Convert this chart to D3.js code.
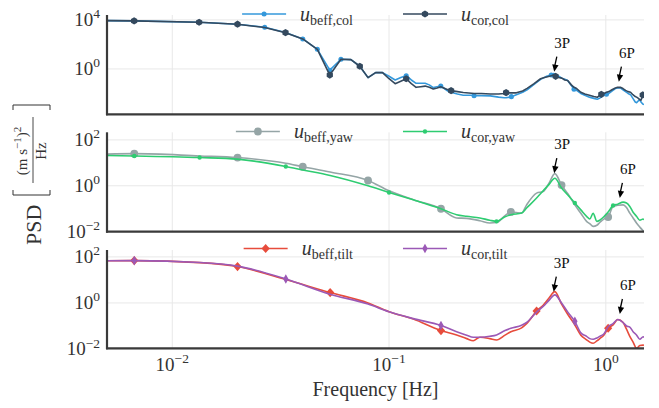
<!DOCTYPE html>
<html><head><meta charset="utf-8">
<script src="https://cdn.jsdelivr.net/npm/d3@7"></script>
<style>body{margin:0;background:#fff}svg{display:block}</style>
</head><body>
<svg id="c" width="659" height="408"></svg>
<script>
// ---------- DATA (PSD values, stored as log10 of PSD) ----------
const freqCol = [0.005,0.00667,0.0133,0.02,0.0267,0.0333,0.04,0.0467,0.0533,0.06,0.0667,0.0733,0.08,0.0867,0.0933,0.1,0.1067,0.1133,0.12,0.1267,0.1333,0.14,0.1467,0.1533,0.16,0.1667,0.1733,0.1867,0.1933,0.2067,0.22,0.24,0.2467,0.2667,0.2933,0.32,0.34,0.3467,0.36,0.3667,0.3867,0.4133,0.4333,0.4667,0.5,0.52,0.5333,0.56,0.5733,0.5867,0.6067,0.6267,0.6467,0.6667,0.6933,0.7133,0.7333,0.7667,0.8,0.84,0.88,0.9133,0.9333,0.9533,0.9733,1.0067,1.0333,1.0667,1.1067,1.1333,1.1667,1.2,1.2333,1.2667,1.3,1.3333,1.3667,1.3867,1.4133,1.4333,1.4533,1.48,1.5];
const colBeffLog = [3.94,3.92,3.81,3.65,3.4,2.98,2.45,1.6,-0.1,0.79,0.76,0.22,-0.71,-0.3,-0.3,-0.6,-0.9,-0.7,-0.55,-0.9,-1.17,-1.17,-1.17,-1.3,-1.52,-1.45,-1.39,-1.8,-1.9,-2.05,-2.15,-2.15,-2.18,-2.18,-2.2,-2.3,-2.35,-2.35,-2.3,-2.26,-2.1,-1.9,-1.71,-1.25,-0.85,-0.71,-0.6,-0.49,-0.38,-0.45,-0.6,-0.75,-0.85,-0.95,-1.35,-1.65,-1.75,-2.0,-2.15,-2.3,-2.4,-2.47,-2.4,-2.3,-2.15,-2.07,-2.0,-1.8,-1.6,-1.55,-1.55,-1.7,-1.85,-2.0,-2.1,-2.4,-2.7,-2.75,-2.6,-2.5,-2.7,-2.86,-2.9];
const colCorLog  = [3.94,3.92,3.81,3.65,3.38,2.96,2.45,1.6,-0.5,0.79,0.76,0.22,-0.71,-0.3,-0.3,-0.8,-1.2,-1.0,-0.8,-1.2,-1.5,-1.45,-1.4,-1.5,-1.63,-1.55,-1.45,-1.7,-1.77,-1.85,-1.92,-1.98,-2.0,-2.0,-2.05,-2.05,-2.0,-1.93,-1.95,-1.95,-1.95,-1.8,-1.58,-1.2,-0.8,-0.7,-0.65,-0.55,-0.5,-0.6,-0.7,-0.75,-0.9,-0.95,-1.3,-1.5,-1.6,-1.9,-2.05,-2.15,-2.25,-2.31,-2.2,-2.07,-2.05,-1.9,-1.85,-1.7,-1.55,-1.5,-1.5,-1.6,-1.75,-1.85,-1.9,-2.1,-2.25,-2.3,-2.4,-2.5,-2.55,-2.12,-2.3];
const colBeffMarks = [0.0267,0.04,0.0467,0.0533,0.06,0.12,0.1733,0.2467,0.3667,0.56,0.7133,1.0067];
const colCorMarks  = [0.00667,0.0133,0.02,0.0333,0.0533,0.0733,0.12,0.1933,0.3467,0.5867,0.9533,1.48];

const freqYaw = [0.005,0.00668,0.01337,0.02,0.0334,0.04,0.0535,0.08,0.1,0.1294,0.1736,0.205,0.228,0.2624,0.2917,0.3133,0.3427,0.3648,0.4088,0.4311,0.4793,0.514,0.5458,0.582,0.6249,0.668,0.7195,0.767,0.815,0.843,0.874,0.909,0.9375,0.979,1.025,1.08,1.135,1.2014,1.2456,1.29,1.336,1.385,1.435,1.486,1.5];
const yawBeffLog = [1.38,1.40,1.30,1.23,0.98,0.83,0.60,0.23,-0.22,-0.61,-1.0,-1.4,-1.42,-1.52,-1.62,-1.6,-1.3,-1.14,-1.19,-0.83,-0.32,-0.25,0.1,0.53,0.03,-0.35,-0.83,-1.2,-1.55,-1.65,-1.77,-1.72,-1.6,-1.45,-1.36,-0.9,-0.85,-0.83,-0.95,-1.19,-1.4,-1.62,-1.8,-1.96,-2.0];
const yawCorLog  = [1.32,1.30,1.23,1.16,0.84,0.69,0.45,0.0,-0.29,-0.61,-1.0,-1.26,-1.33,-1.40,-1.50,-1.55,-1.35,-1.26,-1.19,-0.97,-0.53,-0.22,0.05,0.33,-0.1,-0.4,-0.75,-1.05,-1.33,-1.45,-1.2,-1.55,-1.5,-1.35,-1.14,-0.86,-0.8,-0.71,-0.75,-0.9,-1.15,-1.33,-1.5,-1.45,-1.48];
const yawBeffMarks = [0.00668,0.02,0.04,0.08,0.1736,0.3648,0.6249,1.025];
const yawCorMarks  = [0.00668,0.01337,0.0334,0.1,0.3133,0.7195,1.08];

const freqTilt = [0.005,0.00668,0.01337,0.02,0.0334,0.0535,0.08,0.1,0.1294,0.1736,0.205,0.228,0.2446,0.2624,0.2917,0.3133,0.3427,0.3648,0.4088,0.4311,0.4793,0.514,0.5458,0.582,0.6249,0.668,0.7195,0.767,0.815,0.843,0.874,0.909,0.9375,0.979,1.025,1.08,1.135,1.2014,1.2456,1.29,1.336,1.385,1.435,1.486,1.5];
const tiltBeffLog = [1.83,1.84,1.75,1.58,1.02,0.45,0.0,-0.38,-0.7,-1.2,-1.39,-1.55,-1.64,-1.49,-1.55,-1.61,-1.4,-1.25,-1.08,-0.9,-0.35,-0.1,0.2,0.49,-0.05,-0.5,-0.95,-1.4,-1.6,-1.7,-1.75,-1.65,-1.55,-1.4,-1.1,-0.95,-0.72,-0.85,-1.14,-1.45,-1.7,-1.97,-1.85,-1.83,-1.85];
const tiltCorLog  = [1.83,1.84,1.76,1.60,1.04,0.38,-0.05,-0.38,-0.68,-0.98,-1.25,-1.4,-1.49,-1.49,-1.45,-1.39,-1.2,-1.1,-0.97,-0.85,-0.4,-0.15,0.1,0.35,0.0,-0.4,-0.8,-1.3,-1.45,-1.55,-1.58,-1.52,-1.45,-1.35,-1.03,-0.9,-0.72,-0.85,-1.0,-1.05,-1.25,-1.39,-1.58,-1.47,-1.5];
const tiltBeffMarks = [0.00668,0.02,0.0535,0.1736,0.4793,1.025];
const tiltCorMarks  = [0.00668,0.0334,0.1736,0.7195];

const xTickValues = [0.01,0.1,1];
const yTicksCol = [1e0,1e4];
const yTicksYaw = [1e-2,1e0,1e2];
const yTicksTilt = [1e-2,1e0,1e2];
// annotation tips (frequency, log10 PSD)
const annCol  = [{label:"3P",f:0.578,L:-0.22},{label:"6P",f:1.148,L:-1.04}];
const annYaw  = [{label:"3P",f:0.578,L:0.55},{label:"6P",f:1.16,L:-0.53}];
const annTilt = [{label:"3P",f:0.575,L:0.49},{label:"6P",f:1.16,L:-0.48}];

// ---------- DRAWING ----------
const svg = d3.select("#c");
const FONT = "'Liberation Serif','DejaVu Serif',serif";
const left = 107, right = 644;
const x = d3.scaleLog().domain([0.005,1.5]).range([left,right]);

const panels = [
  {top:15, bottom:114.3, dom:[-3.7,4.4], ticks:yTicksCol, freq:freqCol, curve:d3.curveLinear, legY:14, ann:annCol,
   series:[
    {sub:"beff,col", logs:colBeffLog, marks:colBeffMarks, color:"#3498db", mk:"dot"},
    {sub:"cor,col", logs:colCorLog, marks:colCorMarks, color:"#34495e", mk:"hex"}]},
  {top:132.3, bottom:231.7, dom:[-2,2.33], ticks:yTicksYaw, freq:freqYaw, curve:d3.curveMonotoneX, legY:131.5, ann:annYaw,
   series:[
    {sub:"beff,yaw", logs:yawBeffLog, marks:yawBeffMarks, color:"#95a5a6", mk:"bigdot"},
    {sub:"cor,yaw", logs:yawCorLog, marks:yawCorMarks, color:"#2ecc71", mk:"small"}]},
  {top:250, bottom:348.3, dom:[-1.97,2.3], ticks:yTicksTilt, freq:freqTilt, curve:d3.curveMonotoneX, legY:248.5, ann:annTilt,
   series:[
    {sub:"beff,tilt", logs:tiltBeffLog, marks:tiltBeffMarks, color:"#e74c3c", mk:"diamond"},
    {sub:"cor,tilt", logs:tiltCorLog, marks:tiltCorMarks, color:"#9b59b6", mk:"thindiamond"}]}
];

function markerPath(type){
  switch(type){
    case "dot": return d3.symbol(d3.symbolCircle, 20)();
    case "small": return d3.symbol(d3.symbolCircle, 15)();
    case "bigdot": return d3.symbol(d3.symbolCircle, 48)();
    case "hex": { const r=3.6; let p=""; for(let i=0;i<6;i++){const a=Math.PI/6+i*Math.PI/3; p+=(i?"L":"M")+(r*Math.cos(a)).toFixed(2)+","+(r*Math.sin(a)).toFixed(2);} return p+"Z"; }
    case "diamond": return "M0,-4.6L4.1,0L0,4.6L-4.1,0Z";
    case "thindiamond": return "M0,-4.8L2.7,0L0,4.8L-2.7,0Z";
  }
}
function sup(textSel, base, exp, fs, es){
  textSel.append("tspan").attr("font-size",fs).text(base);
  textSel.append("tspan").attr("font-size",es).attr("dy",-fs*0.42).text(exp);
}
function expStr(v){ const e=Math.round(Math.log10(v)); return (e<0?"\u2212":"")+Math.abs(e); }

const defs = svg.append("defs");
panels.forEach((p,pi)=>{
  const y = d3.scaleLog().domain([10**p.dom[0],10**p.dom[1]]).range([p.bottom,p.top]);
  const g = svg.append("g");
  g.selectAll(".gx").data(xTickValues).enter().append("line")
    .attr("x1",d=>x(d)).attr("x2",d=>x(d)).attr("y1",p.top).attr("y2",p.bottom)
    .attr("stroke","#e8e8e8").attr("stroke-width",1);
  g.selectAll(".gy").data(p.ticks).enter().append("line")
    .attr("x1",left).attr("x2",right).attr("y1",d=>y(d)).attr("y2",d=>y(d))
    .attr("stroke","#e8e8e8").attr("stroke-width",1);
  p.ticks.forEach(t=>{
    const tx = g.append("text").attr("x",100).attr("y",y(t)+6.5).attr("text-anchor","end")
      .attr("font-family",FONT).attr("fill","#333");
    sup(tx,"10",expStr(t),19,13.5);
  });
  const cid = "clip"+pi;
  defs.append("clipPath").attr("id",cid).append("rect")
    .attr("x",left).attr("y",p.top-6).attr("width",right-left).attr("height",p.bottom-p.top+6);
  const plot = g.append("g").attr("clip-path",`url(#${cid})`);
  p.series.forEach(s=>{
    const pts = p.freq.map((f,i)=>[f,10**s.logs[i]]);
    const line = d3.line().x(d=>x(d[0])).y(d=>y(d[1])).curve(p.curve);
    plot.append("path").attr("d",line(pts)).attr("fill","none")
      .attr("stroke",s.color).attr("stroke-width",1.6).attr("stroke-linejoin","round");
    const mp = markerPath(s.mk);
    s.marks.forEach(mf=>{
      const i = p.freq.indexOf(mf);
      if(i<0) return;
      plot.append("path").attr("d",mp).attr("fill",s.color)
        .attr("transform",`translate(${x(p.freq[i])},${y(10**s.logs[i])})`);
    });
  });
  g.append("line").attr("x1",left).attr("x2",left).attr("y1",p.top).attr("y2",p.bottom+1)
    .attr("stroke","#3a3a3a").attr("stroke-width",2.2);
  g.append("line").attr("x1",left-1).attr("x2",right).attr("y1",p.bottom).attr("y2",p.bottom)
    .attr("stroke","#3a3a3a").attr("stroke-width",2.2);
  p.ann.forEach(a=>{
    const tx = x(a.f), ty = y(10**a.L);
    const sx = tx+2.6, sy = ty-15;
    g.append("line").attr("x1",sx).attr("y1",sy).attr("x2",tx+0.6).attr("y2",ty-6)
      .attr("stroke","#000").attr("stroke-width",1.3);
    const ang = Math.atan2(ty-sy, tx-sx);
    const hl=7, hw=3.2;
    const bx = tx - hl*Math.cos(ang), by = ty - hl*Math.sin(ang);
    const nx = -Math.sin(ang), ny = Math.cos(ang);
    g.append("path").attr("d",`M${tx},${ty}L${bx+nx*hw},${by+ny*hw}L${bx-nx*hw},${by-ny*hw}Z`).attr("fill","#000");
    g.append("text").attr("x",tx+8).attr("y",ty-24).attr("text-anchor","middle")
      .attr("font-family",FONT).attr("font-size",15).attr("fill","#111").text(a.label);
  });
  const leg = g.append("g");
  const items = p.series.map(s=>{
    const t = leg.append("text").attr("font-family",FONT).attr("fill","#333").attr("y",p.legY+6.5);
    t.append("tspan").attr("font-style","italic").attr("font-size",20).text("u");
    t.append("tspan").attr("font-size",14).attr("dy",4).text(s.sub);
    return {s,t,w:t.node().getComputedTextLength()};
  });
  const handle=44, pad=14, colgap=50;
  const total = items.reduce((a,it)=>a+handle+pad+it.w,0)+colgap;
  let cx = (left+right)/2 - total/2;
  items.forEach(it=>{
    leg.append("line").attr("x1",cx).attr("x2",cx+handle).attr("y1",p.legY).attr("y2",p.legY)
      .attr("stroke",it.s.color).attr("stroke-width",1.6);
    leg.append("path").attr("d",markerPath(it.s.mk)).attr("fill",it.s.color)
      .attr("transform",`translate(${cx+handle/2},${p.legY})`);
    it.t.attr("x",cx+handle+pad);
    cx += handle+pad+it.w+colgap;
  });
});

const bottomY = panels[2].bottom;
xTickValues.forEach(v=>{
  const t = svg.append("text").attr("x",x(v)).attr("y",bottomY+23).attr("text-anchor","middle")
    .attr("font-family",FONT).attr("fill","#333");
  sup(t,"10",expStr(v),19,13.5);
});
svg.append("text").attr("x",(left+right)/2).attr("y",396).attr("text-anchor","middle")
  .attr("font-family",FONT).attr("font-size",20).attr("fill","#333").text("Frequency [Hz]");

const yl = svg.append("g").attr("transform","translate(41,245) rotate(-90)").attr("font-family",FONT).attr("fill","#333");
yl.append("text").attr("x",0).attr("y",0).attr("font-size",22).text("PSD");
const bx0 = 50;
const num = yl.append("text").attr("x",bx0+44).attr("y",-14).attr("text-anchor","middle").attr("font-size",15);
num.append("tspan").text("(m s");
num.append("tspan").attr("font-size",11).attr("dy",-6).text("\u22121");
num.append("tspan").attr("dy",6).text(")");
num.append("tspan").attr("font-size",11).attr("dy",-6).text("2");
yl.append("line").attr("x1",bx0+12).attr("x2",bx0+78).attr("y1",-8).attr("y2",-8).attr("stroke","#333").attr("stroke-width",0.9);
yl.append("text").attr("x",bx0+44).attr("y",5).attr("text-anchor","middle").attr("font-size",15).text("Hz");
yl.append("path").attr("d",`M${bx0+5},-28L${bx0},-28L${bx0},9L${bx0+5},9`).attr("fill","none").attr("stroke","#333").attr("stroke-width",1);
yl.append("path").attr("d",`M${bx0+85},-28L${bx0+90},-28L${bx0+90},9L${bx0+85},9`).attr("fill","none").attr("stroke","#333").attr("stroke-width",1);
</script>
</body></html>
